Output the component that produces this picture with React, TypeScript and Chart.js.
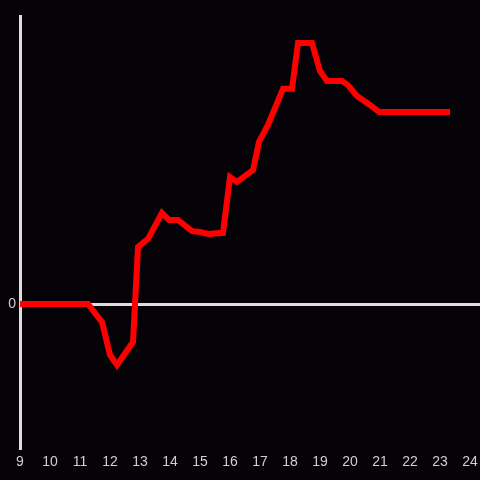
import React, { useEffect, useRef } from "react";
import { Chart, registerables } from "chart.js";

Chart.register(...registerables);

const hours = [9, 11.267, 11.733, 12.0, 12.233, 12.767, 12.933, 13.267, 13.733, 13.967, 14.267, 14.733, 15.0, 15.267, 15.767, 16.0, 16.233, 16.767, 16.967, 17.267, 17.767, 18.067, 18.267, 18.733, 19.0, 19.233, 19.733, 19.933, 20.233, 20.667, 20.967, 23.333];
const values = [0, 0, -6.3, -17.7, -21.2, -13.2, 19.8, 22.6, 31.6, 29.2, 29.2, 25.3, 25, 24.3, 24.7, 44.1, 42.4, 46.5, 56.3, 62.2, 74.7, 74.7, 90.6, 90.6, 80.9, 77.4, 77.4, 76, 72.2, 69.1, 66.7, 66.7];
const xTicks = [9, 10, 11, 12, 13, 14, 15, 16, 17, 18, 19, 20, 21, 22, 23, 24];
const yTicks = [0];

export default function App() {
  const ref = useRef<HTMLCanvasElement>(null);
  useEffect(() => {
    document.body.style.margin = "0";
    document.body.style.background = "#050307";
    const chart = new Chart(ref.current!, {
      type: "line",
      data: {
        datasets: [
          {
            data: hours.map((h, i) => ({ x: h, y: values[i] })),
            borderColor: "#ff0000",
            borderWidth: 6,
            pointRadius: 0,
            tension: 0,
            fill: false,
          },
        ],
      },
      options: {
        animation: false,
        responsive: false,
        maintainAspectRatio: false,
        layout: { padding: { top: 16, right: 0, left: 0, bottom: 0 } },
        plugins: { legend: { display: false }, tooltip: { enabled: false } },
        scales: {
          x: {
            type: "linear",
            min: 9,
            max: 24.333,
            afterBuildTicks: (s: any) => {
              s.ticks = xTicks.map((v) => ({ value: v }));
            },
            afterFit: (s: any) => {
              s.height = 32;
              s.paddingLeft = 0;
              s.paddingRight = 0;
            },
            grid: { display: false, drawTicks: false },
            border: { display: false },
            ticks: {
              color: "#d0d0d0",
              font: { size: 14 },
              padding: 6,
              maxRotation: 0,
              autoSkip: false,
            },
          },
          y: {
            type: "linear",
            min: -50,
            max: 100,
            afterBuildTicks: (s: any) => {
              s.ticks = yTicks.map((v) => ({ value: v }));
            },
            afterFit: (s: any) => {
              s.width = 20;
              s.paddingTop = 0;
              s.paddingBottom = 0;
            },
            grid: { color: "#dddddd", lineWidth: 3, drawTicks: false },
            border: { display: true, color: "#dddddd", width: 3 },
            ticks: { color: "#d0d0d0", font: { size: 14 }, padding: 4 },
          },
        },
      },
    });
    return () => chart.destroy();
  }, []);
  return (
    <div style={{ width: 480, height: 480, background: "#050307" }}>
      <canvas ref={ref} width={480} height={480} style={{ display: "block" }} />
    </div>
  );
}
